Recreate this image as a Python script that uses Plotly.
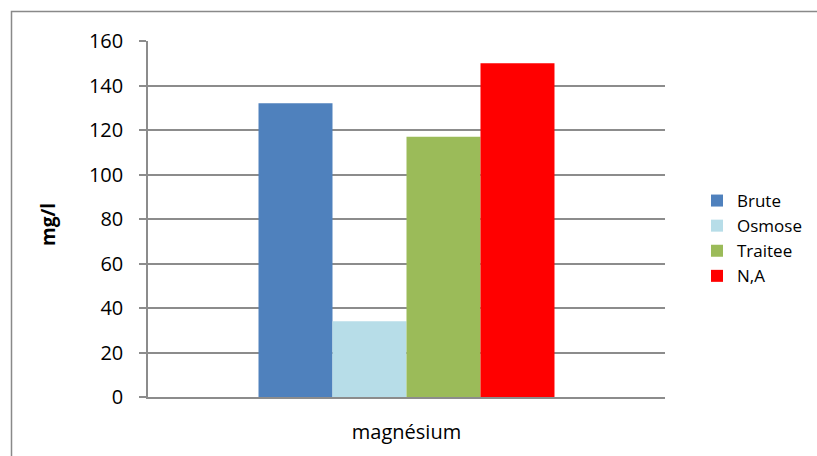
import plotly.graph_objects as go

# Data
categories = ["magnésium"]
series_names = ["Brute", "Osmose", "Traitee", "N,A"]
series_values = [132, 34, 117, 150]
series_colors = ["#4F81BD", "#B7DDE8", "#9BBB59", "#FF0000"]
y_ticks = [0, 20, 40, 60, 80, 100, 120, 140, 160]

W, H = 817, 456
L, R, T, B = 148, 152, 41, 59
pw, ph = W - L - R, H - T - B

fig = go.Figure()
for name, val, col in zip(series_names, series_values, series_colors):
    fig.add_trace(go.Bar(
        x=categories, y=[val], name=name,
        marker=dict(color=col, line=dict(width=0)),
    ))

grid = "#8C8C8C"
font = "Open Sans, Liberation Sans, sans-serif"

fig.update_layout(
    width=W, height=H,
    margin=dict(l=L, r=R, t=T, b=B, pad=0, autoexpand=False),
    paper_bgcolor="white", plot_bgcolor="white",
    barmode="group", bargap=0.4275, bargroupgap=0,
    font=dict(family=font, color="#000000"),
    showlegend=True,
    legend=dict(
        x=(697 - L) / pw, y=(H - B - 183) / ph,
        xanchor="left", yanchor="top",
        font=dict(size=17, family=font),
        bgcolor="rgba(0,0,0,0)",
        tracegroupgap=0,
    ),
    xaxis=dict(
        showline=True, linecolor=grid, linewidth=1.5,
        ticks="", showgrid=False, automargin=False,
        tickfont=dict(size=20, family=font),
        ticklabelstandoff=16,
    ),
    yaxis=dict(
        range=[0, 160], tickvals=y_ticks,
        showgrid=True, gridcolor=grid, gridwidth=1.5,
        showline=True, linecolor=grid, linewidth=1.5,
        ticks="outside", ticklen=7, tickcolor=grid, tickwidth=1.5,
        tickfont=dict(size=20, family=font),
        ticklabelstandoff=12, automargin=False,
        zeroline=False,
    ),
    annotations=[dict(
        text="<b>mg/l</b>", xref="paper", yref="paper",
        x=(48 - L) / pw, y=(H - B - 225) / ph,
        xanchor="center", yanchor="middle",
        textangle=-90, showarrow=False,
        font=dict(size=19, family=font),
    )],
    shapes=[dict(
        type="rect", xref="paper", yref="paper",
        x0=(11.5 - L) / pw, x1=(W + 20 - L) / pw,
        y0=(H - B - (H + 20)) / ph, y1=(H - B - 11.5) / ph,
        line=dict(color="#898989", width=1.5), fillcolor="rgba(0,0,0,0)",
        layer="below",
    )],
)

fig.write_html("out.html")
